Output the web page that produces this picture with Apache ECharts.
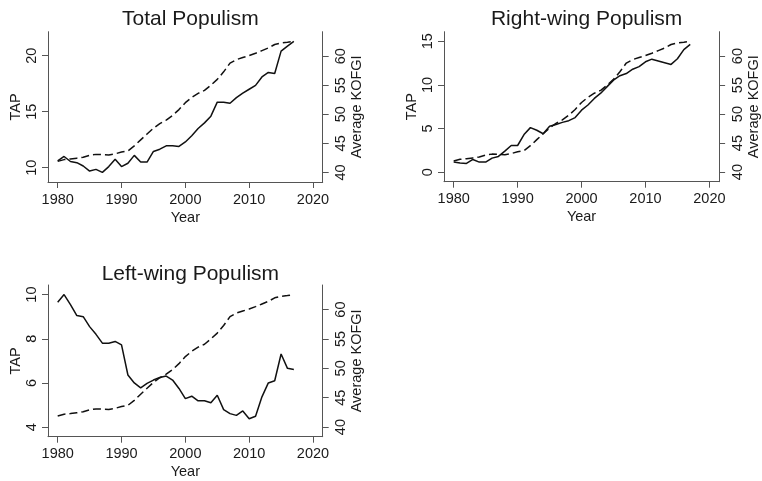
<!DOCTYPE html>
<html>
<head>
<meta charset="utf-8">
<script src="https://cdn.jsdelivr.net/npm/echarts@6/dist/echarts.min.js"></script>
<style>
  html, body { margin: 0; padding: 0; background: #fff; }
  #main { width: 762px; height: 481px; }
</style>
</head>
<body>
<div id="main"></div>
<script>
// yearly series, 1980-2017
const years = [1980, 1981, 1982, 1983, 1984, 1985, 1986, 1987, 1988, 1989,
  1990, 1991, 1992, 1993, 1994, 1995, 1996, 1997, 1998, 1999,
  2000, 2001, 2002, 2003, 2004, 2005, 2006, 2007, 2008, 2009,
  2010, 2011, 2012, 2013, 2014, 2015, 2016, 2017];

const kofgi = [41.9, 42.2, 42.3, 42.45, 42.6, 42.95, 43.1, 43.05, 43.0, 43.2,
  43.5, 43.7, 44.55, 45.6, 46.6, 47.6, 48.4, 49.0, 49.8, 50.8,
  52.0, 52.9, 53.6, 54.1, 55.0, 56.0, 57.3, 58.8, 59.4, 59.75,
  60.1, 60.5, 60.95, 61.4, 62.0, 62.25, 62.38, 62.55];

const tapTotal = [10.6, 11.0, 10.55, 10.45, 10.15, 9.7, 9.85, 9.58, 10.1, 10.75,
  10.1, 10.4, 11.1, 10.5, 10.5, 11.45, 11.65, 11.95, 11.95, 11.9,
  12.3, 12.85, 13.5, 14.0, 14.6, 15.85, 15.85, 15.75, 16.25, 16.65,
  17.0, 17.35, 18.1, 18.5, 18.4, 20.4, 20.85, 21.28];

const tapRight = [1.15, 1.05, 1.0, 1.45, 1.15, 1.15, 1.6, 1.8, 2.4, 3.05,
  3.05, 4.3, 5.1, 4.8, 4.4, 5.25, 5.45, 5.7, 5.9, 6.25,
  7.1, 7.7, 8.45, 9.05, 9.8, 10.55, 11.05, 11.3, 11.8, 12.1,
  12.65, 12.95, 12.75, 12.55, 12.35, 13.0, 14.05, 14.65];

const tapLeft = [9.65, 10.0, 9.55, 9.05, 9.0, 8.55, 8.2, 7.8, 7.8, 7.88,
  7.72, 6.36, 6.0, 5.78, 5.98, 6.13, 6.25, 6.31, 6.13, 5.75,
  5.29, 5.4, 5.19, 5.19, 5.1, 5.44, 4.79, 4.61, 4.53, 4.73,
  4.38, 4.49, 5.37, 6.0, 6.1, 7.31, 6.66, 6.61];

const yearTicks = [1980, 1990, 2000, 2010, 2020];
const kofgiTicks = [40, 45, 50, 55, 60];
const totalTicks = [10, 15, 20];
const rightTicks = [0, 5, 10, 15];
const leftTicks = [4, 6, 8, 10];

const FONT = '"Liberation Sans", Arial, sans-serif';
const INK = '#1a1a1a';
const AXIS = '#555';

const panels = [
  { title: 'Total Populism', tap: tapTotal, ticks: totalTicks, left: 48, top: 31.7, width: 274.7, height: 150.3, titleTop: 4 },
  { title: 'Right-wing Populism', tap: tapRight, ticks: rightTicks, left: 444, top: 31.7, width: 275.3, height: 150, titleTop: 4 },
  { title: 'Left-wing Populism', tap: tapLeft, ticks: leftTicks, left: 48, top: 285, width: 274.7, height: 151.7, titleTop: 259 }
];

// Stata-like range: data and ticks span the inner region, axes run ~10px past it
function extent(values, ticks, px, m) {
  const lo = Math.min(...values, ...ticks);
  const hi = Math.max(...values, ...ticks);
  const k = m / (px - 2 * m) * (hi - lo);
  return { min: lo - k, max: hi + k };
}

const plain = (v) => String(v);

const grid = [], xAxis = [], yAxis = [], series = [], title = [];

panels.forEach((p, i) => {
  grid.push({ left: p.left, top: p.top, width: p.width, height: p.height });
  title.push({
    text: p.title,
    left: p.left + p.width / 2,
    top: p.titleTop,
    textAlign: 'center',
    textStyle: { fontFamily: FONT, fontSize: 21, fontWeight: 'normal', color: INK }
  });

  const xr = extent(years, yearTicks, p.width, 9.7);
  xAxis.push({
    type: 'value', gridIndex: i, min: xr.min, max: xr.max,
    name: 'Year', nameLocation: 'middle', nameGap: 28,
    nameTextStyle: { fontFamily: FONT, fontSize: 14.5, color: INK },
    axisLine: { show: true, onZero: false, lineStyle: { color: AXIS, width: 1 } },
    axisTick: { show: true, length: 6, customValues: yearTicks, lineStyle: { color: AXIS } },
    axisLabel: { customValues: yearTicks, formatter: plain, margin: 10, fontFamily: FONT, fontSize: 14.5, color: INK },
    splitLine: { show: false }
  });

  const tr = extent(p.tap, p.ticks, p.height, 9.6);
  yAxis.push({
    type: 'value', gridIndex: i, position: 'left', min: tr.min, max: tr.max,
    name: 'TAP', nameLocation: 'middle', nameGap: 25, nameRotate: 90,
    nameTextStyle: { fontFamily: FONT, fontSize: 14.5, color: INK },
    axisLine: { show: true, onZero: false, lineStyle: { color: AXIS, width: 1 } },
    axisTick: { show: true, length: 6, customValues: p.ticks, lineStyle: { color: AXIS } },
    axisLabel: { customValues: p.ticks, formatter: plain, rotate: 90, margin: 9, fontFamily: FONT, fontSize: 14.5, color: INK },
    splitLine: { show: false }
  });

  const kr = extent(kofgi, kofgiTicks, p.height, 9.6);
  yAxis.push({
    type: 'value', gridIndex: i, position: 'right', min: kr.min, max: kr.max,
    name: 'Average KOFGI', nameLocation: 'middle', nameGap: 22, nameRotate: 90,
    nameTextStyle: { fontFamily: FONT, fontSize: 14.5, color: INK },
    axisLine: { show: true, onZero: false, lineStyle: { color: AXIS, width: 1 } },
    axisTick: { show: true, length: 6, customValues: kofgiTicks, lineStyle: { color: AXIS } },
    axisLabel: { customValues: kofgiTicks, formatter: plain, rotate: 90, margin: 11, fontFamily: FONT, fontSize: 14.5, color: INK },
    splitLine: { show: false }
  });

  series.push({
    type: 'line', xAxisIndex: i, yAxisIndex: i * 2, showSymbol: false,
    data: years.map((y, j) => [y, p.tap[j]]),
    lineStyle: { color: '#111', width: 1.5 }
  });
  series.push({
    type: 'line', xAxisIndex: i, yAxisIndex: i * 2 + 1, showSymbol: false,
    data: years.map((y, j) => [y, kofgi[j]]),
    lineStyle: { color: '#111', width: 1.5, type: [8, 4] }
  });
});

const chart = echarts.init(document.getElementById('main'));
chart.setOption({
  animation: false,
  backgroundColor: '#fff',
  title: title,
  grid: grid,
  xAxis: xAxis,
  yAxis: yAxis,
  series: series
});
</script>
</body>
</html>
